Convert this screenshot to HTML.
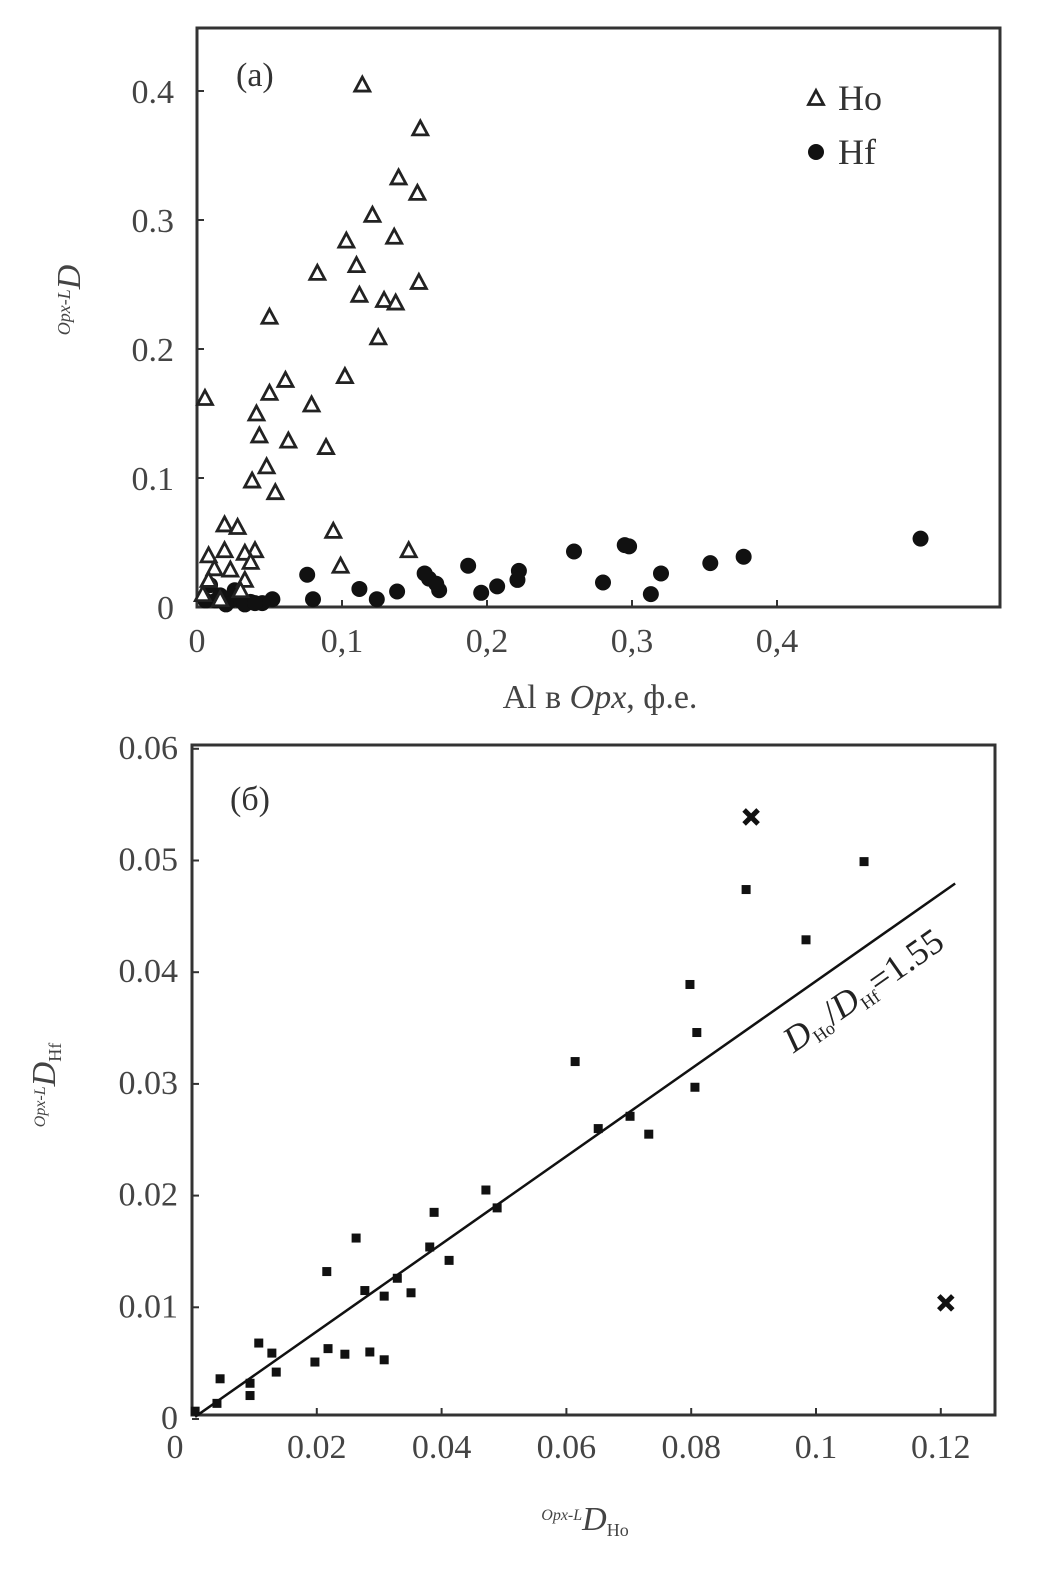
<!DOCTYPE html>
<html><head><meta charset="utf-8">
<style>
html,body{margin:0;padding:0;background:#fff;}
svg{display:block;font-family:"Liberation Serif",serif;}
</style></head>
<body>
<svg id="chart" width="1052" height="1569" viewBox="0 0 1052 1569"></svg>
<script>
// ---- Panel (a) data ----
const aXTicks = [0, 0.1, 0.2, 0.3, 0.4];
const aXTickLabels = ["0", "0,1", "0,2", "0,3", "0,4"];
const aYTicks = [0, 0.1, 0.2, 0.3, 0.4];
const aYTickLabels = ["0", "0.1", "0.2", "0.3", "0.4"];
const hoX = [0.0055,0.114,0.154,0.139,0.121,0.103,0.136,0.152,0.110,0.112,0.129,0.137,0.125,0.153,0.083,0.050,0.079,0.102,0.089,0.063,0.061,0.050,0.041,0.043,0.048,0.038,0.054,0.094,0.099,0.146,0.019,0.028,0.008,0.019,0.040,0.033,0.012,0.008,0.023,0.033,0.037,0.030,0.004,0.016];
const hoY = [0.162,0.405,0.371,0.333,0.304,0.284,0.287,0.321,0.265,0.242,0.238,0.236,0.209,0.252,0.259,0.225,0.157,0.179,0.124,0.129,0.176,0.166,0.150,0.133,0.109,0.098,0.089,0.059,0.032,0.044,0.064,0.062,0.040,0.044,0.044,0.042,0.030,0.021,0.029,0.021,0.035,0.013,0.010,0.006];
const hfX = [0.499,0.377,0.354,0.320,0.313,0.298,0.295,0.280,0.260,0.222,0.221,0.207,0.196,0.187,0.167,0.160,0.157,0.165,0.138,0.124,0.112,0.076,0.080,0.052,0.045,0.037,0.030,0.023,0.013,0.006,0.016,0.026,0.009,0.020,0.033,0.040];
const hfY = [0.053,0.039,0.034,0.026,0.010,0.047,0.048,0.019,0.043,0.028,0.021,0.016,0.011,0.032,0.013,0.022,0.026,0.018,0.012,0.006,0.014,0.025,0.006,0.006,0.003,0.004,0.005,0.005,0.005,0.005,0.009,0.013,0.017,0.002,0.002,0.003];

// ---- Panel (b) data ----
const bXTicks = [0, 0.02, 0.04, 0.06, 0.08, 0.1, 0.12];
const bXTickLabels = ["0", "0.02", "0.04", "0.06", "0.08", "0.1", "0.12"];
const bYTicks = [0, 0.01, 0.02, 0.03, 0.04, 0.05, 0.06];
const bYTickLabels = ["0", "0.01", "0.02", "0.03", "0.04", "0.05", "0.06"];
const ptX = [0.0005,0.004,0.0045,0.0093,0.0093,0.0107,0.0128,0.0135,0.0197,0.0218,0.0245,0.0263,0.0216,0.0277,0.0285,0.0308,0.0308,0.0329,0.0351,0.0381,0.0388,0.0412,0.0471,0.0489,0.0614,0.0651,0.0702,0.0732,0.0798,0.0809,0.0806,0.0888,0.0984,0.1077];
const ptY = [0.0007,0.0014,0.0036,0.0032,0.0021,0.0068,0.0059,0.0042,0.0051,0.0063,0.0058,0.0162,0.0132,0.0115,0.006,0.011,0.0053,0.0126,0.0113,0.0154,0.0185,0.0142,0.0205,0.0189,0.032,0.026,0.0271,0.0255,0.0389,0.0346,0.0297,0.0474,0.0429,0.0499];
const crossX = [0.1208, 0.0896];
const crossY = [0.0104, 0.0539];
const fitSlope = [0.392];
const fitRange = [0.0005, 0.1223];

const NS = "http://www.w3.org/2000/svg";
const svg = document.getElementById("chart");
function el(tag, attrs, parent){
  const e = document.createElementNS(NS, tag);
  for (const k in attrs) e.setAttribute(k, attrs[k]);
  (parent || svg).appendChild(e);
  return e;
}
function txt(s, attrs, parent){ const t = el("text", attrs, parent); t.textContent = s; return t; }

const axA = v => 197 + v * 1450;
const ayA = v => 607 - v * 1290;
const axB = v => 192 + v * 6240;
const ayB = v => 1419 - v * 11170;

// ===== Panel (a) =====
const gA = el("g", {});


const boxA = el("rect", {x:197, y:28, width:803, height:579, fill:"none", stroke:"#333", "stroke-width":3}, gA);


aXTicks.forEach((v,i)=>{
  const tk = el("line",{x1:axA(v),x2:axA(v),y1:607,y2:600,stroke:"#333","stroke-width":2},gA);
  
  
  const t = txt(aXTickLabels[i],{x:axA(v),y:652,"text-anchor":"middle","font-size":34,fill:"#444"},gA);
  
  
});
aYTicks.forEach((v,i)=>{
  const tk = el("line",{x1:197,x2:204,y1:ayA(v),y2:ayA(v),stroke:"#333","stroke-width":2},gA);
  
  
  const t = txt(aYTickLabels[i],{x:174,y:ayA(v)+12,"text-anchor":"end","font-size":34,fill:"#444"},gA);
  
  
});
hfX.forEach((x,i)=>{
  const c = el("circle",{cx:axA(x),cy:ayA(hfY[i]),r:8,fill:"#111"},gA);
  
  
});
function tri(cx,cy,parent){
  return el("path",{d:`M${cx},${cy-7.5} L${cx+7.5},${cy+6.5} L${cx-7.5},${cy+6.5} Z`,fill:"#fff",stroke:"#222","stroke-width":2.8},parent);
}
hoX.forEach((x,i)=>{
  const t = tri(axA(x),ayA(hoY[i]),gA);
  
  
});
const labA = txt("(a)",{x:236,y:86,"font-size":34,fill:"#333"},gA);


const lg1 = tri(816,98,gA);


const lg1t = txt("Ho",{x:838,y:110,"font-size":36,fill:"#333"},gA);


const lg2 = el("circle",{cx:816,cy:152,r:8,fill:"#111"},gA);


const lg2t = txt("Hf",{x:838,y:164,"font-size":36,fill:"#333"},gA);


const xtA = el("text",{x:600,y:708,"text-anchor":"middle","font-size":34,fill:"#444"},gA);
xtA.innerHTML = 'Al в <tspan font-style="italic">Opx</tspan>, ф.е.';


const ytA = el("text",{transform:"translate(80,300) rotate(-90)","text-anchor":"middle","font-size":34,fill:"#444"},gA);
ytA.innerHTML = '<tspan font-size="18" font-style="italic" dy="-10">Opx-L</tspan><tspan font-style="italic" dy="10">D</tspan>';



// ===== Panel (b) =====
const gB = el("g", {});


const boxB = el("rect", {x:192, y:745, width:803, height:670, fill:"none", stroke:"#333", "stroke-width":3}, gB);


bXTicks.forEach((v,i)=>{
  const tk = el("line",{x1:axB(v),x2:axB(v),y1:1415,y2:1408,stroke:"#333","stroke-width":2},gB);
  
  
  const t = txt(bXTickLabels[i],{x:axB(v)-(i===0?17:0),y:1458,"text-anchor":"middle","font-size":34,fill:"#444"},gB);
  
  
});
bYTicks.forEach((v,i)=>{
  const tk = el("line",{x1:192,x2:199,y1:ayB(v),y2:ayB(v),stroke:"#333","stroke-width":2},gB);
  
  
  const t = txt(bYTickLabels[i],{x:178,y:ayB(v)+10,"text-anchor":"end","font-size":34,fill:"#444"},gB);
  
  
});
const fit = el("line",{x1:axB(fitRange[0]),y1:ayB(fitRange[0]*fitSlope[0]),x2:axB(fitRange[1]),y2:ayB(fitRange[1]*fitSlope[0]),stroke:"#111","stroke-width":2.5},gB);


ptX.forEach((x,i)=>{
  const c = el("rect",{x:axB(x)-4.5,y:ayB(ptY[i])-4.5,width:9,height:9,fill:"#111"},gB);
  
  
});
crossX.forEach((x,i)=>{
  const cx = axB(x), cy = ayB(crossY[i]);
  const p = el("path",{d:`M${cx-7},${cy-7} L${cx+7},${cy+7} M${cx+7},${cy-7} L${cx-7},${cy+7}`,stroke:"#111","stroke-width":5},gB);
  
  
});
const labB = txt("(б)",{x:230,y:810,"font-size":34,fill:"#333"},gB);


const rl = el("text",{transform:"translate(870,1000) rotate(-35)","text-anchor":"middle","font-size":36,fill:"#222"},gB);
rl.innerHTML = '<tspan font-style="italic">D</tspan><tspan font-size="18" dy="6">Ho</tspan><tspan dy="-6">/</tspan><tspan font-style="italic">D</tspan><tspan font-size="18" dy="6">Hf</tspan><tspan dy="-6">=1.55</tspan>';


const xtB = el("text",{x:585,y:1530,"text-anchor":"middle","font-size":34,fill:"#444"},gB);
xtB.innerHTML = '<tspan font-size="16" font-style="italic" dy="-10">Opx-L</tspan><tspan font-style="italic" dy="10">D</tspan><tspan font-size="18" dy="6">Ho</tspan>';


const ytB = el("text",{transform:"translate(55,1085) rotate(-90)","text-anchor":"middle","font-size":34,fill:"#444"},gB);
ytB.innerHTML = '<tspan font-size="16" font-style="italic" dy="-10">Opx-L</tspan><tspan font-style="italic" dy="10">D</tspan><tspan font-size="18" dy="6">Hf</tspan>';


</script>
</body></html>
